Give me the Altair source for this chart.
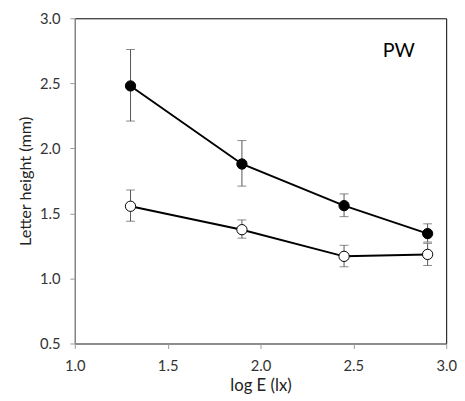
import altair as alt
import pandas as pd

log_e = [1.3, 1.9, 2.45, 2.9]
filled_y = [2.48, 1.88, 1.56, 1.345]
filled_lo = [2.21, 1.71, 1.475, 1.28]
filled_hi = [2.76, 2.06, 1.65, 1.42]
open_y = [1.555, 1.375, 1.17, 1.185]
open_lo = [1.44, 1.31, 1.09, 1.10]
open_hi = [1.68, 1.45, 1.255, 1.27]

rows = []
for i, x in enumerate(log_e):
    rows.append(dict(series="filled", x=x, y=filled_y[i], lo=filled_lo[i], hi=filled_hi[i]))
for i, x in enumerate(log_e):
    rows.append(dict(series="open", x=x, y=open_y[i], lo=open_lo[i], hi=open_hi[i]))
df = pd.DataFrame(rows)

FONT = "Lato"
xs = alt.Scale(domain=[1.0, 3.0], nice=False)
ys = alt.Scale(domain=[0.5, 3.0], nice=False)

x_axis = alt.Axis(values=[1.0, 1.5, 2.0, 2.5, 3.0], format=".1f", title="log E (lx)",
                  grid=False, domainColor="#999999", tickColor="#999999", tickSize=5,
                  labelFlush=False,
                  labelFont=FONT, labelFontSize=15, labelColor="#333333", labelPadding=10,
                  titleFont=FONT, titleFontSize=17, titleFontWeight="normal", titleColor="#222222",
                  titlePadding=5)
y_axis = alt.Axis(values=[0.5, 1.0, 1.5, 2.0, 2.5, 3.0], format=".1f", title="Letter height (mm)",
                  grid=False, domainColor="#999999", tickColor="#999999", tickSize=5,
                  labelFlush=False,
                  labelFont=FONT, labelFontSize=15, labelColor="#333333", labelPadding=10,
                  titleFont=FONT, titleFontSize=16.5, titleFontWeight="normal", titleColor="#222222",
                  titlePadding=6)

base = alt.Chart(df)

err = base.mark_rule(color="#555555", strokeWidth=1).encode(
    x=alt.X("x:Q", scale=xs, axis=x_axis),
    y=alt.Y("lo:Q", scale=ys, axis=y_axis),
    y2="hi:Q",
)
cap_hi = base.mark_tick(color="#555555", thickness=1, size=9, orient="horizontal").encode(
    x=alt.X("x:Q", scale=xs), y=alt.Y("hi:Q", scale=ys))
cap_lo = base.mark_tick(color="#555555", thickness=1, size=9, orient="horizontal").encode(
    x=alt.X("x:Q", scale=xs), y=alt.Y("lo:Q", scale=ys))

line = base.mark_line(color="black", strokeWidth=2).encode(
    x=alt.X("x:Q", scale=xs), y=alt.Y("y:Q", scale=ys), detail="series:N")

pts = base.mark_point(shape="circle", size=110, filled=True, stroke="black", strokeWidth=1, opacity=1).encode(
    x=alt.X("x:Q", scale=xs), y=alt.Y("y:Q", scale=ys),
    fill=alt.Fill("series:N", scale=alt.Scale(domain=["filled", "open"], range=["black", "white"]), legend=None),
)

label = alt.Chart(pd.DataFrame({"t": ["PW"], "x": [2.745], "y": [2.75]})).mark_text(
    font=FONT, fontSize=20, color="black", align="center", baseline="middle").encode(
    x=alt.X("x:Q", scale=xs), y=alt.Y("y:Q", scale=ys), text="t:N")

chart = alt.layer(err, cap_hi, cap_lo, line, pts, label).properties(
    width=378, height=331,
    autosize=alt.AutoSizeParams(type="none"),
    padding={"left": 68, "top": 7, "right": 11, "bottom": 53},
).configure_view(stroke="black", strokeWidth=1)

chart.save("out.html", embed_options={"renderer": "svg", "actions": False})
